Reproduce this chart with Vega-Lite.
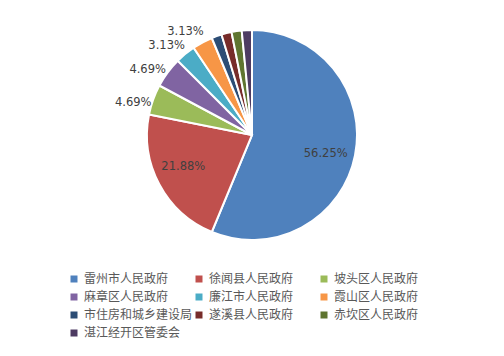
{
  "$schema": "https://vega.github.io/schema/vega-lite/v6.json",
  "width": 504,
  "height": 270,
  "padding": {"left": 0, "top": 0, "right": 0, "bottom": 86},
  "autosize": {"type": "none"},
  "background": "#ffffff",
  "config": {"view": {"stroke": null}},
  "data": {
    "values": [
      {"idx": 1, "name": "雷州市人民政府", "share": 0.5625},
      {"idx": 2, "name": "徐闻县人民政府", "share": 0.21875},
      {"idx": 3, "name": "坡头区人民政府", "share": 0.046875},
      {"idx": 4, "name": "麻章区人民政府", "share": 0.046875},
      {"idx": 5, "name": "廉江市人民政府", "share": 0.03125},
      {"idx": 6, "name": "霞山区人民政府", "share": 0.03125},
      {"idx": 7, "name": "市住房和城乡建设局", "share": 0.015625},
      {"idx": 8, "name": "遂溪县人民政府", "share": 0.015625},
      {"idx": 9, "name": "赤坎区人民政府", "share": 0.015625},
      {"idx": 10, "name": "湛江经开区管委会", "share": 0.015625}
    ]
  },
  "encoding": {
    "theta": {"field": "share", "type": "quantitative", "stack": true},
    "order": {"field": "idx", "type": "quantitative"}
  },
  "layer": [
    {
      "mark": {"type": "arc", "outerRadius": 105, "stroke": "#ffffff", "strokeWidth": 2},
      "encoding": {
        "color": {
          "field": "name",
          "type": "nominal",
          "sort": null,
          "scale": {
            "domain": ["雷州市人民政府", "徐闻县人民政府", "坡头区人民政府", "麻章区人民政府", "廉江市人民政府", "霞山区人民政府", "市住房和城乡建设局", "遂溪县人民政府", "赤坎区人民政府", "湛江经开区管委会"],
            "range": ["#4F81BD", "#C0504D", "#9BBB59", "#8064A2", "#4BACC6", "#F79646", "#2C4D75", "#772C2A", "#5F7530", "#4D3B62"]
          },
          "legend": {
            "orient": "none",
            "legendX": 68,
            "legendY": 273,
            "direction": "horizontal",
            "title": null,
            "columns": 3,
            "gridAlign": "all",
            "columnPadding": -1,
            "rowPadding": 6,
            "symbolType": "square",
            "symbolSize": 49,
            "symbolStrokeWidth": 0,
            "labelOffset": 4,
            "labelFont": "Noto Sans CJK SC",
            "labelFontSize": 12,
            "labelColor": "#595959",
            "labelLimit": 200
          }
        }
      }
    },
    {
      "mark": {"type": "text", "radius": 76, "thetaOffset": 0.05, "font": "DejaVu Sans", "fontSize": 11.5, "fill": "#404040"},
      "encoding": {
        "text": {
          "condition": {"test": "datum.share > 0.1", "field": "share", "type": "quantitative", "format": ".2%"},
          "value": ""
        }
      }
    },
    {
      "mark": {"type": "text", "radius": 123, "thetaOffset": -0.08, "font": "DejaVu Sans", "fontSize": 11.5, "fill": "#404040"},
      "encoding": {
        "text": {
          "condition": {"test": "datum.share > 0.02 && datum.share < 0.1", "field": "share", "type": "quantitative", "format": ".2%"},
          "value": ""
        }
      }
    }
  ]
}
